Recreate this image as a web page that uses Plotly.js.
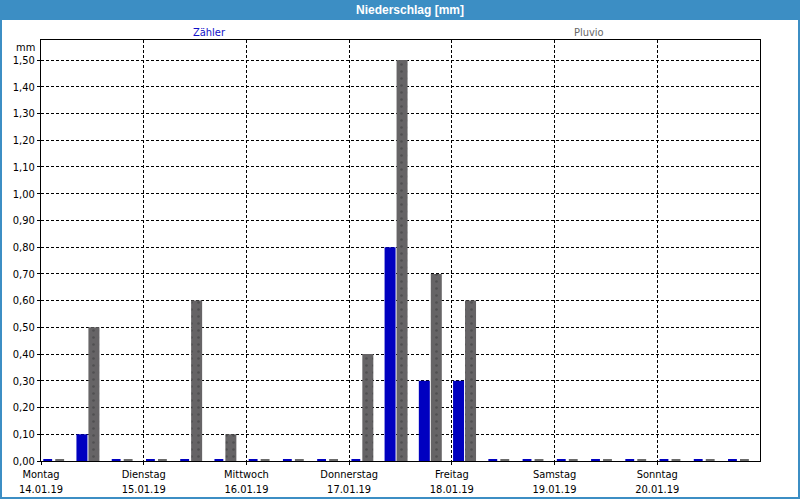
<!DOCTYPE html>
<html>
<head>
<meta charset="utf-8">
<script src="https://cdn.plot.ly/plotly-3.0.1.min.js"></script>
<style>
  html, body { margin: 0; padding: 0; background: #ffffff; }
  #wrap { position: relative; width: 800px; height: 500px; overflow: hidden; }
  #bar { position: absolute; left: 0; top: 0; width: 800px; height: 20px; background: #3c8ec4; }
  #chart { position: absolute; left: 0; top: 0; width: 800px; height: 500px; }
  #frame { position: absolute; left: 0; top: 0; width: 800px; height: 499px; box-sizing: border-box;
           border: 2px solid #3c8ec4; border-top: none; pointer-events: none; }
</style>
</head>
<body>
<div id="wrap">
  <div id="bar"></div>
  <div id="chart"></div>
  <div id="frame"></div>
</div>
<script>
// ---- data ----
const intervalStarts = [
  '2019-01-14 00:00', '2019-01-14 08:00', '2019-01-14 16:00',
  '2019-01-15 00:00', '2019-01-15 08:00', '2019-01-15 16:00',
  '2019-01-16 00:00', '2019-01-16 08:00', '2019-01-16 16:00',
  '2019-01-17 00:00', '2019-01-17 08:00', '2019-01-17 16:00',
  '2019-01-18 00:00', '2019-01-18 08:00', '2019-01-18 16:00',
  '2019-01-19 00:00', '2019-01-19 08:00', '2019-01-19 16:00',
  '2019-01-20 00:00', '2019-01-20 08:00', '2019-01-20 16:00'
];
const zaehler = [0, 0.10, 0, 0, 0, 0, 0, 0, 0, 0, 0.80, 0.30, 0.30, 0, 0, 0, 0, 0, 0, 0, 0];
const pluvio  = [0, 0.50, 0, 0, 0.60, 0.10, 0, 0, 0, 0.40, 1.50, 0.70, 0.60, 0, 0, 0, 0, 0, 0, 0, 0];
const seriesNames = ['Zähler', 'Pluvio'];
const dayTicks = ['2019-01-14', '2019-01-15', '2019-01-16', '2019-01-17', '2019-01-18', '2019-01-19', '2019-01-20'];
const dayNames = ['Montag', 'Dienstag', 'Mittwoch', 'Donnerstag', 'Freitag', 'Samstag', 'Sonntag'];
const dayDates = ['14.01.19', '15.01.19', '16.01.19', '17.01.19', '18.01.19', '19.01.19', '20.01.19'];
const xRange = ['2019-01-14 00:00', '2019-01-21 00:00'];
const yUnit = 'mm';
const chartTitle = 'Niederschlag [mm]';

// ---- style ----
const HOUR = 3600000;
const blueOffset = 0.28 * HOUR, grayOffset = 3.08 * HOUR, barWidth = 2.57 * HOUR;
const dashInset = 0.25 * HOUR;
const FONT = 'DejaVu Sans Condensed, Liberation Sans, Arial, sans-serif';
const BLUE = '#0000c0', GRAY = '#666466';

function toMs(s) {
  const m = s.match(/(\d+)-(\d+)-(\d+)(?:\s+(\d+):(\d+))?/);
  return Date.UTC(+m[1], +m[2] - 1, +m[3], +(m[4] || 0), +(m[5] || 0));
}
function fmt(ms) { return new Date(ms).toISOString().replace('T', ' ').replace('Z', ''); }

const traces = [
  {
    type: 'bar', name: seriesNames[0], x: intervalStarts, y: zaehler,
    offset: blueOffset, width: barWidth,
    marker: { color: BLUE, line: { width: 0 } }, hoverinfo: 'x+y'
  },
  {
    type: 'bar', name: seriesNames[1], x: intervalStarts, y: pluvio,
    offset: grayOffset, width: barWidth,
    marker: { color: GRAY, line: { width: 0 },
      pattern: { shape: '.', fillmode: 'overlay', bgcolor: GRAY, fgcolor: '#3a393b', size: 7, solidity: 0.12 } },
    hoverinfo: 'x+y'
  }
];

// small baseline dashes marking each interval (visible where value is 0)
const shapes = [];
intervalStarts.forEach(function (s) {
  const t = toMs(s);
  [[blueOffset, BLUE], [grayOffset, '#6a6a6a']].forEach(function (p) {
    shapes.push({
      type: 'rect', layer: 'below', xref: 'x', yref: 'y', ysizemode: 'pixel', yanchor: 0,
      x0: fmt(t + p[0] + dashInset), x1: fmt(t + p[0] + barWidth - dashInset),
      y0: 0, y1: 2, fillcolor: p[1], line: { width: 0 }
    });
  });
});

const layout = {
  width: 800, height: 500,
  margin: { l: 41, r: 40, t: 40, b: 39 },
  paper_bgcolor: 'rgba(0,0,0,0)', plot_bgcolor: '#ffffff',
  separators: ',.',
  showlegend: false,
  barmode: 'overlay',
  font: { family: FONT, size: 11, color: '#000000' },
  title: {
    text: '<b>' + chartTitle + '</b>', xref: 'container', yref: 'container',
    x: 0.5125, y: 0.98, xanchor: 'center', yanchor: 'middle',
    font: { family: 'Liberation Sans, Arial, sans-serif', size: 12, color: '#ffffff' }
  },
  xaxis: {
    type: 'date', range: xRange,
    tickmode: 'array', tickvals: dayTicks,
    ticktext: dayNames.map(function (d, i) { return d + '<br>' + dayDates[i]; }),
    showgrid: true, gridcolor: '#000000', gridwidth: 1, griddash: '3px,2px',
    showline: true, linecolor: '#000000', linewidth: 1, mirror: true,
    ticks: 'outside', ticklen: 3, tickcolor: '#000000',
    tickfont: { family: FONT, size: 11, color: '#000000' },
    zeroline: false, fixedrange: true
  },
  yaxis: {
    range: [0, 1.575],
    tickmode: 'linear', tick0: 0, dtick: 0.1, tickformat: '.2f',
    showgrid: true, gridcolor: '#000000', gridwidth: 1, griddash: '3px,2px',
    showline: true, linecolor: '#000000', linewidth: 1, mirror: true,
    ticks: 'outside', ticklen: 3, tickcolor: '#000000',
    tickfont: { family: FONT, size: 11, color: '#000000' },
    zeroline: false, fixedrange: true
  },
  shapes: shapes,
  annotations: [
    { text: yUnit, xref: 'paper', yref: 'paper', x: 0, y: 1, xanchor: 'right', yanchor: 'middle',
      xshift: -4, yshift: -7, showarrow: false, font: { family: FONT, size: 11, color: '#000000' } },
    { text: seriesNames[0], xref: 'paper', yref: 'paper', x: 0.2337, y: 1, xanchor: 'center', yanchor: 'middle',
      yshift: 8, showarrow: false, font: { family: FONT, size: 11, color: '#1010c8' } },
    { text: seriesNames[1], xref: 'paper', yref: 'paper', x: 0.762, y: 1, xanchor: 'center', yanchor: 'middle',
      yshift: 8, showarrow: false, font: { family: FONT, size: 11, color: '#666666' } }
  ]
};

Plotly.newPlot('chart', traces, layout, { displayModeBar: false, staticPlot: true });
</script>
</body>
</html>
